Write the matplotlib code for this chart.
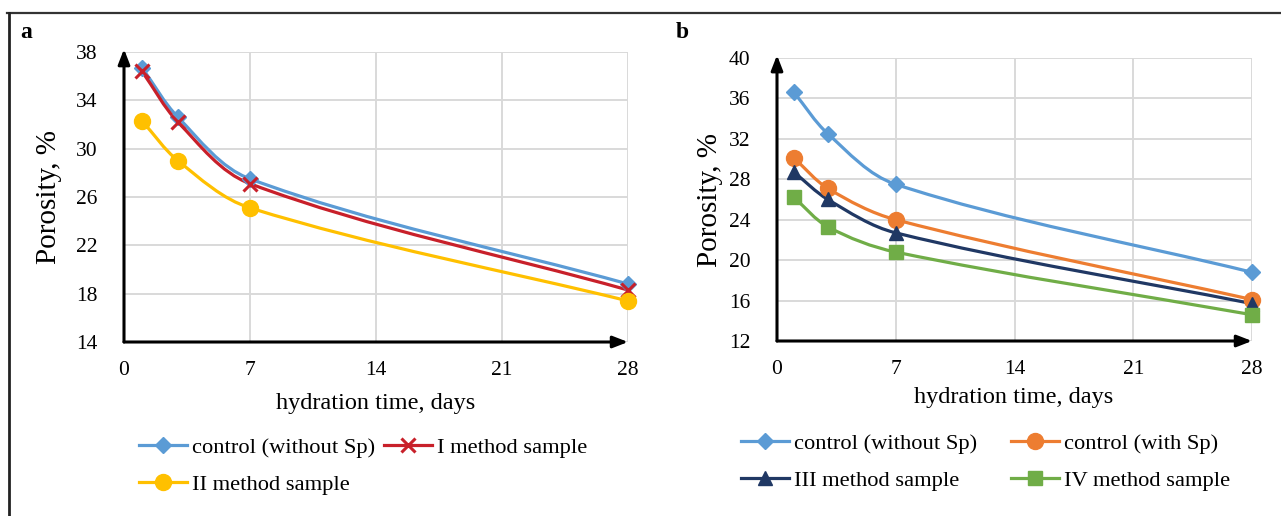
import numpy as np
import matplotlib
matplotlib.use("Agg")
import matplotlib.pyplot as plt
from matplotlib.lines import Line2D
from matplotlib.path import Path
from matplotlib.patches import PathPatch

plt.rcParams['font.family'] = ['Liberation Serif', 'DejaVu Serif']

# hydration time, days
days = [1, 3, 7, 28]

# panel a
a_control = [36.7, 32.6, 27.5, 18.8]
a_method1 = [36.4, 32.2, 27.1, 18.3]
a_method2 = [32.3, 29.0, 25.1, 17.4]

# panel b
b_control = [36.6, 32.5, 27.5, 18.8]
b_control_sp = [30.1, 27.1, 24.0, 16.1]
b_method3 = [28.7, 26.0, 22.7, 15.7]
b_method4 = [26.2, 23.3, 20.8, 14.6]

x_ticks = [0, 7, 14, 21, 28]
a_yticks = [14, 18, 22, 26, 30, 34, 38]
b_yticks = [12, 16, 20, 24, 28, 32, 36, 40]

W, H = 1281, 516
fig = plt.figure(figsize=(W / 100, H / 100), dpi=100)


def fx(px):
    return px / W


def fy(py):
    return 1 - py / H


def smooth_line(ax, xs, ys, color, lw=2.3):
    """Smoothed line (cubic bezier, tangents built in display space)."""
    pts = ax.transData.transform(np.column_stack([xs, ys]))
    n = len(pts)
    tang = []
    for i in range(n):
        a = pts[i - 1] if i > 0 else pts[i]
        b = pts[i + 1] if i + 1 < n else pts[i]
        d = b - a
        tang.append(d / np.hypot(*d))
    verts = [pts[0]]
    codes = [Path.MOVETO]
    for i in range(n - 1):
        seg = np.hypot(*(pts[i + 1] - pts[i]))
        c1 = pts[i] + tang[i] * seg / 3.0
        c2 = pts[i + 1] - tang[i + 1] * seg / 3.0
        verts += [c1, c2, pts[i + 1]]
        codes += [Path.CURVE4] * 3
    inv = ax.transData.inverted()
    path = Path(inv.transform(np.array(verts)), codes)
    ax.add_patch(PathPatch(path, facecolor='none', edgecolor=color, lw=lw,
                           zorder=3, capstyle='round'))


def setup_axes(rect, ylim, yticks):
    ax = fig.add_axes(rect)
    ax.set_xlim(0, 28)
    ax.set_ylim(*ylim)
    ax.set_xticks(x_ticks)
    ax.set_yticks(yticks)
    for s in ax.spines.values():
        s.set_visible(False)
    ax.grid(True, color='#D9D9D9', lw=1.4, zorder=0)
    ax.tick_params(length=0, labelsize=15.5, pad=19)
    ax.tick_params(axis='x', pad=14)
    ax.set_axisbelow(True)
    # axes with arrows
    ax.annotate('', xy=(0, 1.01), xytext=(0, 0), xycoords='axes fraction',
                arrowprops=dict(arrowstyle='-|>,head_length=0.9,head_width=0.35',
                                color='black', lw=2.2, shrinkA=0, shrinkB=0))
    ax.annotate('', xy=(1.0, 0), xytext=(0, 0), xycoords='axes fraction',
                arrowprops=dict(arrowstyle='-|>,head_length=0.9,head_width=0.35',
                                color='black', lw=2.2, shrinkA=0, shrinkB=0))
    return ax


def series(ax, ys, color, marker, ms, label, mew=1.0):
    smooth_line(ax, days, ys, color)
    ax.plot(days, ys, linestyle='none', marker=marker, ms=ms, color=color,
            mec=color, mew=mew, zorder=4, clip_on=False)
    return Line2D([], [], color=color, lw=2.3, marker=marker, ms=ms,
                  mec=color, mew=mew, label=label)


# panel a
ax1 = setup_axes([fx(124), fy(342), fx(628) - fx(124), fy(52) - fy(342)],
                 (14, 38), a_yticks)
h1 = series(ax1, a_control, '#5B9BD5', 'D', 8.5, 'control (without Sp)')
h2 = series(ax1, a_method1, '#C8202A', 'x', 10, 'I method sample', mew=2.2)
h3 = series(ax1, a_method2, '#FFC000', 'o', 11.5, 'II method sample')

# panel b
ax2 = setup_axes([fx(777), fy(341), fx(1252) - fx(777), fy(58) - fy(341)],
                 (12, 40), b_yticks)
g1 = series(ax2, b_control, '#5B9BD5', 'D', 8.5, 'control (without Sp)')
g2 = series(ax2, b_control_sp, '#ED7D31', 'o', 11.5, 'control (with Sp)')
g3 = series(ax2, b_method3, '#203864', '^', 10.5, 'III method sample')
g4 = series(ax2, b_method4, '#70AD47', 's', 10.5, 'IV method sample')

# labels
fig.text(fx(26), fy(33), 'a', fontsize=17, fontweight='bold', ha='center', va='center')
fig.text(fx(682), fy(33), 'b', fontsize=17, fontweight='bold', ha='center', va='center')
fig.text(fx(49), fy(197), 'Porosity, %', fontsize=21, rotation=90, ha='center', va='center')
fig.text(fx(710), fy(200), 'Porosity, %', fontsize=21, rotation=90, ha='center', va='center')
fig.text(fx(376), fy(403), 'hydration time, days', fontsize=17.5, ha='center', va='center')
fig.text(fx(1014), fy(397), 'hydration time, days', fontsize=17.5, ha='center', va='center')

# legends (row-major order)
fig.legend(handles=[h1, h3, h2], ncol=2, loc='center left',
           bbox_to_anchor=(fx(139), fy(466)), frameon=False, fontsize=16.2,
           handlelength=2.15, handletextpad=0.2, columnspacing=0.4,
           labelspacing=0.72, borderpad=0, borderaxespad=0)
fig.legend(handles=[g1, g3, g2, g4], ncol=2, loc='center left',
           bbox_to_anchor=(fx(741), fy(462)), frameon=False, fontsize=16.2,
           handlelength=2.15, handletextpad=0.2, columnspacing=1.5,
           labelspacing=0.72, borderpad=0, borderaxespad=0)

# outer frame
fig.add_artist(Line2D([fx(7), 1], [fy(13), fy(13)], color='#333333', lw=1.6))
fig.add_artist(Line2D([fx(8.5), fx(8.5)], [fy(13), 0], color='#222222', lw=2.0))

fig.savefig('out.png', dpi=100)
